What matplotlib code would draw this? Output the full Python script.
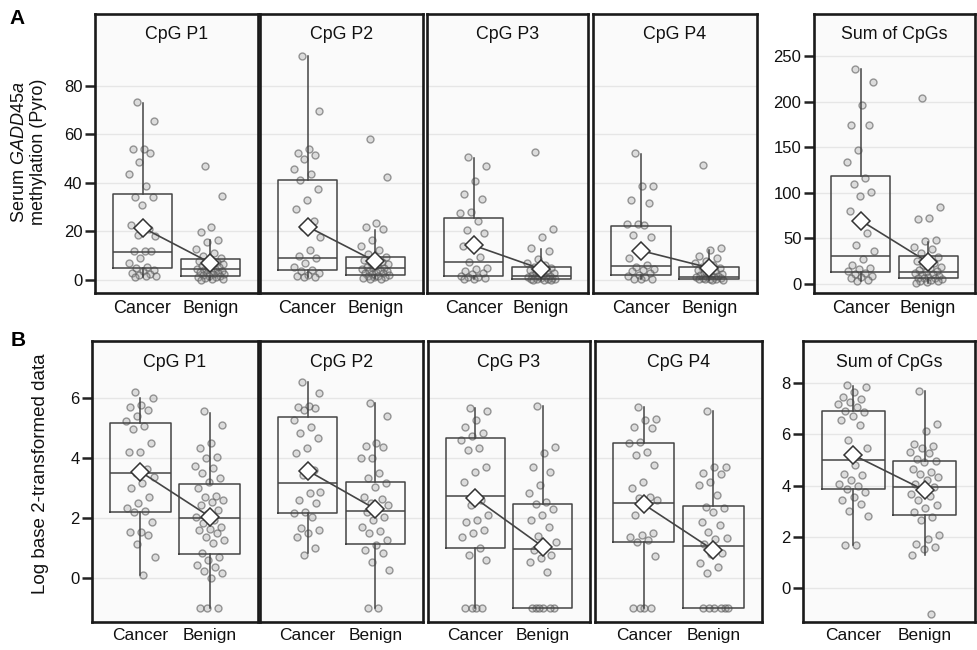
import numpy as np
import matplotlib
matplotlib.use('Agg')
import matplotlib.pyplot as plt

# ---------------------------------------------------------------
# data (A = raw pyro %, B = log2-transformed)
# ---------------------------------------------------------------
groups = ['Cancer', 'Benign']
titles = ['CpG P1', 'CpG P2', 'CpG P3', 'CpG P4', 'Sum of CpGs']

A_P1_cancer = [73.3, 65.6, 54.0, 54.2, 52.5, 48.8, 43.6, 38.9, 34.4, 34.0, 31.1, 22.7, 21.0, 18.6, 18.2,
               12.0, 11.8, 12.1, 8.9, 6.9, 5.5, 5.0, 4.1, 3.5, 2.8, 2.6, 2.2, 1.7, 1.5, 1.2]
A_P1_benign = [47.0, 34.6, 22.0, 19.6, 16.3, 15.5, 12.6, 11.0, 10.0, 9.2, 8.5, 8.0, 7.4, 7.0, 6.5, 6.0,
               5.8, 5.2, 5.0, 4.6, 4.3, 4.0, 3.8, 3.5, 3.2, 3.0, 2.8, 2.5, 2.3, 2.0, 1.8, 1.5, 1.2, 1.0,
               0.8, 0.5, 0.3, 0.0]
A_P2_cancer = [92.4, 69.7, 53.9, 52.3, 51.4, 49.9, 45.7, 43.7, 41.1, 37.5, 33.0, 29.2, 24.1, 22.0, 17.9,
               12.4, 9.9, 8.9, 6.9, 5.5, 4.1, 3.5, 2.8, 2.1, 1.7, 1.4, 1.0]
A_P2_benign = [58.0, 42.4, 23.4, 22.0, 20.9, 16.5, 14.0, 12.5, 10.5, 9.6, 9.0, 8.2, 7.5, 7.0, 6.5, 6.0,
               5.5, 5.1, 4.8, 4.5, 4.2, 3.8, 3.5, 3.2, 3.0, 2.7, 2.4, 2.1, 1.8, 1.5, 1.2, 1.0, 0.7, 0.4, 0.2]
A_P3_cancer = [50.9, 46.8, 40.6, 35.3, 33.4, 28.2, 27.5, 24.1, 20.6, 19.3, 15.1, 14.0, 9.6, 7.5, 5.0,
               4.3, 3.6, 3.0, 2.4, 1.8, 1.4, 1.0, 0.8, 0.5, 0.3]
A_P3_benign = [52.9, 20.9, 17.9, 13.1, 12.1, 8.5, 7.0, 6.0, 5.5, 5.0, 4.5, 4.0, 3.5, 3.0, 2.7, 2.4, 2.1,
               1.8, 1.6, 1.4, 1.2, 1.0, 0.8, 0.6, 0.5, 0.4, 0.3, 0.2, 0.1, 0.0, 0.0]
A_P4_cancer = [52.5, 38.9, 38.9, 33.0, 31.6, 23.1, 23.0, 22.8, 18.4, 17.6, 13.1, 8.9, 6.0, 5.5, 4.5,
               4.0, 3.5, 2.8, 2.1, 1.5, 1.0, 0.5, 0.3, 0.2]
A_P4_benign = [47.2, 13.1, 12.4, 10.0, 9.0, 8.0, 7.0, 6.2, 5.5, 5.0, 4.5, 4.0, 3.5, 3.0, 2.6, 2.2, 1.9,
               1.6, 1.4, 1.2, 1.0, 0.8, 0.6, 0.5, 0.4, 0.3, 0.2, 0.1, 0.0]
A_P5_cancer = [235.7, 221.9, 196.3, 174.0, 174.0, 146.9, 134.1, 115.9, 109.6, 100.9, 96.5, 80.4, 55.6,
               42.8, 36.5, 27.4, 20.5, 18.0, 16.0, 14.0, 12.0, 11.0, 9.0, 8.0, 6.0, 4.0, 3.0]
A_P5_benign = [204.3, 84.0, 72.7, 71.3, 48.2, 47.1, 40.9, 38.0, 33.6, 30.0, 28.0, 25.0, 23.0, 21.0, 19.0,
               17.0, 15.5, 14.0, 13.0, 12.0, 11.0, 10.0, 9.0, 8.0, 7.0, 6.5, 6.0, 5.0, 4.0, 3.5, 3.0,
               2.0, 1.0]

B_P1_cancer = [6.2, 6.0, 5.76, 5.7, 5.59, 5.4, 5.24, 5.06, 4.95, 4.48, 4.2, 4.18, 3.62, 3.5, 3.38, 3.18,
               2.99, 2.71, 2.49, 2.32, 2.25, 2.2, 1.88, 1.55, 1.53, 1.44, 1.14, 0.72, 0.11]
B_P1_benign = [5.54, 5.09, 4.48, 4.32, 4.04, 3.98, 3.73, 3.65, 3.49, 3.32, 3.21, 2.99, 2.73, 2.7, 2.6,
               2.55, 2.44, 2.28, 2.14, 2.05, 1.94, 1.83, 1.72, 1.63, 1.6, 1.49, 1.38, 1.27, 1.18, 0.83,
               0.7, 0.61, 0.44, 0.37, 0.25, 0.17, 0.0, -1.0, -1.0, -1.0]
B_P2_cancer = [6.53, 6.14, 5.72, 5.68, 5.65, 5.59, 5.26, 5.04, 4.84, 4.65, 4.34, 4.15, 3.6, 3.43, 2.88,
               2.83, 2.6, 2.51, 2.21, 2.18, 2.05, 1.66, 1.61, 1.49, 1.36, 1.0, 0.77]
B_P2_benign = [5.83, 5.39, 4.5, 4.39, 4.37, 4.0, 3.98, 3.49, 3.32, 3.15, 3.04, 2.71, 2.62, 2.51, 2.45,
               2.32, 2.21, 2.05, 1.94, 1.72, 1.58, 1.5, 1.27, 1.1, 0.94, 0.83, 0.55, 0.28, -1.0, -1.0]
B_P3_cancer = [5.65, 5.57, 5.26, 5.04, 4.82, 4.73, 4.6, 4.34, 4.26, 3.71, 3.54, 3.19, 2.6, 2.44, 2.1,
               1.94, 1.88, 1.61, 1.49, 1.38, 1.0, 0.77, 0.61, -1.0, -1.0, -1.0, -1.0]
B_P3_benign = [5.72, 4.37, 4.15, 3.71, 3.54, 3.1, 2.82, 2.55, 2.47, 2.29, 2.1, 1.94, 1.69, 1.41, 1.22,
               1.11, 0.94, 0.77, 0.66, 0.55, 0.22, -1.0, -1.0, -1.0, -1.0, -1.0, -1.0]
B_P4_cancer = [5.68, 5.28, 5.25, 5.04, 4.98, 4.54, 4.5, 4.2, 4.1, 3.76, 3.21, 2.99, 2.71, 2.66, 2.6,
               2.44, 2.1, 1.49, 1.45, 1.38, 1.27, 1.2, 0.74, -1.0, -1.0, -1.0, -1.0]
B_P4_benign = [5.54, 3.71, 3.68, 3.49, 3.45, 3.21, 3.1, 2.77, 2.38, 2.33, 2.21, 1.88, 1.77, 1.55, 1.33,
               1.3, 1.14, 0.83, 0.8, 0.5, 0.39, 0.17, -1.0, -1.0, -1.0, -1.0, -1.0, -1.0]
B_P5_cancer = [7.94, 7.85, 7.65, 7.45, 7.4, 7.26, 7.2, 7.09, 6.93, 6.88, 6.7, 6.58, 6.35, 5.8, 5.48,
               4.79, 4.46, 4.4, 4.2, 4.07, 4.0, 3.88, 3.75, 3.55, 3.42, 3.27, 3.0, 2.8, 1.67, 1.67]
B_P5_benign = [7.69, 6.41, 6.15, 5.63, 5.53, 5.48, 5.33, 5.28, 5.05, 4.98, 4.93, 4.63, 4.53, 4.45, 4.33,
               4.2, 4.07, 3.94, 3.81, 3.68, 3.6, 3.42, 3.23, 3.12, 2.97, 2.77, 2.64, 2.06, 1.93, 1.73,
               1.6, 1.51, 1.27, -1.0]

# box stats as drawn: [whisker low, q1, median, q3, whisker high, mean]
A_box_cancer = [[1.2, 4.8, 11.4, 35.3, 72.9, 21.6],
                [1.0, 4.1, 8.9, 41.1, 92.4, 22.0],
                [0.3, 1.65, 7.2, 25.4, 50.2, 14.2],
                [0.2, 2.1, 5.9, 22.4, 52.0, 12.1],
                [3.0, 13.5, 31.1, 118.4, 235.7, 69.4]]
A_box_benign = [[0.0, 1.65, 4.4, 8.5, 16.5, 7.0],
                [0.2, 2.1, 5.1, 9.6, 20.6, 7.6],
                [0.0, 0.4, 1.8, 5.5, 12.7, 4.5],
                [0.0, 0.5, 1.4, 5.2, 12.4, 5.0],
                [1.0, 6.2, 13.5, 31.1, 45.7, 23.8]]
B_box_cancer = [[0.11, 2.21, 3.51, 5.15, 6.0, 3.54],
                [0.83, 2.16, 3.18, 5.35, 6.53, 3.58],
                [-1.0, 1.0, 2.75, 4.67, 5.65, 2.66],
                [-1.0, 1.22, 2.51, 4.48, 5.68, 2.46],
                [1.67, 3.85, 5.01, 6.93, 7.91, 5.2]]
B_box_benign = [[-1.0, 0.8, 2.01, 3.12, 5.5, 2.05],
                [-1.0, 1.14, 2.25, 3.21, 5.83, 2.30],
                [-1.0, -1.0, 0.96, 2.46, 5.72, 1.05],
                [-1.0, -1.0, 1.08, 2.4, 5.54, 0.94],
                [1.27, 2.86, 3.94, 4.98, 7.71, 3.81]]

A_points = [(A_P1_cancer, A_P1_benign), (A_P2_cancer, A_P2_benign), (A_P3_cancer, A_P3_benign),
            (A_P4_cancer, A_P4_benign), (A_P5_cancer, A_P5_benign)]
B_points = [(B_P1_cancer, B_P1_benign), (B_P2_cancer, B_P2_benign), (B_P3_cancer, B_P3_benign),
            (B_P4_cancer, B_P4_benign), (B_P5_cancer, B_P5_benign)]

A_ticks = [0, 20, 40, 60, 80]
A_sum_ticks = [0, 50, 100, 150, 200, 250]
B_ticks = [0, 2, 4, 6]
B_sum_ticks = [0, 2, 4, 6, 8]


def setup_plt():
    plt.rcParams['font.family'] = ['Liberation Sans', 'DejaVu Sans']
    plt.rcParams['mathtext.fontset'] = 'custom'
    plt.rcParams['mathtext.rm'] = 'Liberation Sans'
    plt.rcParams['mathtext.it'] = 'Liberation Sans:italic'
    plt.rcParams['font.size'] = 12


W, H = 977.0, 650.0


def px_axes(fig, x0, x1, y0, y1):
    # pixel box -> figure fraction
    return fig.add_axes([x0 / W, 1 - y1 / H, (x1 - x0) / W, (y1 - y0) / H])


def jitter(n, width=0.42):
    k = np.arange(n)
    return ((k * 0.618034 + 0.3) % 1.0 - 0.5) * width


def draw_panel(ax, pts, boxc, boxb, title, ylim, ticks, show_y, xpad, xsize):
    ax.set_facecolor('#fafafa')
    for t in ticks:
        ax.axhline(t, color='#e6e6e6', lw=1.0, zorder=0)

    for i, vals in enumerate(pts):
        vals = np.array(vals)
        xs = i + 1 + jitter(len(vals))
        ax.scatter(xs, vals, s=25, facecolor=(0.6, 0.6, 0.6, 0.3),
                   edgecolor=(0.35, 0.35, 0.35, 0.6), lw=1.0, zorder=2)

    stats = []
    for b in (boxc, boxb):
        stats.append(dict(whislo=b[0], q1=b[1], med=b[2], q3=b[3], whishi=b[4], fliers=[]))
    lc = '#444444'
    ax.bxp(stats, positions=[1, 2], widths=0.88, showfliers=False, showcaps=False,
           boxprops=dict(color=lc, lw=1.1), medianprops=dict(color=lc, lw=1.1),
           whiskerprops=dict(color=lc, lw=1.1), manage_ticks=False, zorder=3)

    means = [boxc[5], boxb[5]]
    ax.plot([1, 2], means, color=lc, lw=1.2, zorder=4)
    ax.plot([1, 2], means, ls='none', marker='D', ms=9, mfc='white', mec='#333333', mew=1.1, zorder=5)

    ax.set_xlim(0.3, 2.7)
    ax.set_ylim(*ylim)
    ax.set_xticks([1, 2])
    ax.set_xticklabels(groups, fontsize=xsize, color='#111111')
    ax.tick_params(axis='x', length=0, pad=xpad)
    if show_y:
        ax.set_yticks(ticks)
        ax.tick_params(axis='y', length=7, width=1.8, color='#222222', labelsize=12,
                       labelcolor='#111111', pad=2)
    else:
        ax.set_yticks([])
    for s in ax.spines.values():
        s.set_linewidth(1.9)
        s.set_color('#1a1a1a')
    ax.text(0.5, 0.925, title, transform=ax.transAxes, ha='center', va='center', fontsize=12.8,
            color='#111111')


setup_plt()
fig = plt.figure(figsize=(9.77, 6.5), dpi=100)

top_x = [(95, 258), (260, 423), (427, 588), (593, 757), (814, 975)]
bot_x = [(92, 258), (260, 423), (428, 590), (595, 762), (803, 975)]

for i in range(5):
    ax = px_axes(fig, top_x[i][0], top_x[i][1], 14, 293)
    if i < 4:
        draw_panel(ax, A_points[i], A_box_cancer[i], A_box_benign[i], titles[i],
                   (-5.4, 109.7), A_ticks, i == 0, 5, 13)
    else:
        draw_panel(ax, A_points[i], A_box_cancer[i], A_box_benign[i], titles[i],
                   (-9.9, 296), A_sum_ticks, True, 5, 13)

# bottom row x labels sit right at the lower edge of the figure
for i in range(5):
    ax = px_axes(fig, bot_x[i][0], bot_x[i][1], 341, 622)
    if i < 4:
        draw_panel(ax, B_points[i], B_box_cancer[i], B_box_benign[i], titles[i],
                   (-1.45, 7.88), B_ticks, i == 0, 4.5, 12.5)
    else:
        draw_panel(ax, B_points[i], B_box_cancer[i], B_box_benign[i], titles[i],
                   (-1.33, 9.65), B_sum_ticks, True, 4.5, 12.5)

fig.text(29 / W, 1 - 152 / H, 'Serum $\\it{GADD45a}$\nmethylation (Pyro)', rotation=90,
         ha='center', va='center', fontsize=13, color='#111111', linespacing=1.15)
fig.text(41 / W, 1 - 474 / H, 'Log base 2-transformed data', rotation=90,
         ha='center', va='center', fontsize=13.5, color='#111111')
fig.text(17 / W, 1 - 18 / H, 'A', ha='center', va='center', fontsize=15, fontweight='bold')
fig.text(18 / W, 1 - 341 / H, 'B', ha='center', va='center', fontsize=15, fontweight='bold')

plt.savefig('out.png', dpi=100)
